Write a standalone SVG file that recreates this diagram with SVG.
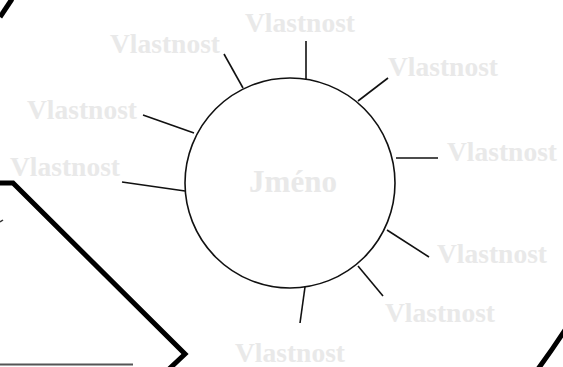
<svg xmlns="http://www.w3.org/2000/svg" width="563" height="367" viewBox="0 0 563 367">
<style>
.lbl{font-family:"Liberation Serif","Times New Roman",serif;font-weight:bold;font-size:27.5px;fill:#e9e9e9}
.tick{stroke:#111;stroke-width:1.6;fill:none}
.thick{stroke:#000;stroke-width:5;fill:none;stroke-linejoin:miter}
</style>
<rect width="563" height="367" fill="#fff"/>
<g id="frame">
<path class="thick" d="M12,-1 L0,17"/>
<path class="thick" d="M0,183 L13,183 L185,354 L168,370"/>
<path d="M0,222 L3,220" stroke="#333" stroke-width="1.5"/>
<line x1="0" y1="364.5" x2="133" y2="364.5" stroke="#555" stroke-width="2"/>
<path class="thick" d="M565,330 Q552,350 538,369"/>
</g>
<g id="connectors">
<line class="tick" x1="306" y1="41" x2="306" y2="79"/>
<line class="tick" x1="224" y1="54" x2="243" y2="88"/>
<line class="tick" x1="388" y1="78" x2="358" y2="101"/>
<line class="tick" x1="143" y1="115" x2="194" y2="133"/>
<line class="tick" x1="122" y1="182" x2="185" y2="191"/>
<line class="tick" x1="396" y1="158" x2="438" y2="158"/>
<line class="tick" x1="387" y1="230" x2="429" y2="257"/>
<line class="tick" x1="358" y1="266" x2="383" y2="296"/>
<line class="tick" x1="305" y1="287" x2="300" y2="323"/>
</g>
<g id="entity">
<circle cx="290" cy="183" r="105" fill="#fff" stroke="#111" stroke-width="1.6"/>
<text class="lbl" x="293" y="192" text-anchor="middle" style="font-size:31px">Jméno</text>
</g>
<g id="attr1"><text class="lbl" x="245" y="32">Vlastnost</text></g>
<g id="attr2"><text class="lbl" x="110" y="53">Vlastnost</text></g>
<g id="attr3"><text class="lbl" x="388" y="76">Vlastnost</text></g>
<g id="attr4"><text class="lbl" x="27" y="119">Vlastnost</text></g>
<g id="attr5"><text class="lbl" x="10" y="176">Vlastnost</text></g>
<g id="attr6"><text class="lbl" x="447" y="161">Vlastnost</text></g>
<g id="attr7"><text class="lbl" x="437" y="263">Vlastnost</text></g>
<g id="attr8"><text class="lbl" x="385" y="322">Vlastnost</text></g>
<g id="attr9"><text class="lbl" x="235" y="362">Vlastnost</text></g>
</svg>
